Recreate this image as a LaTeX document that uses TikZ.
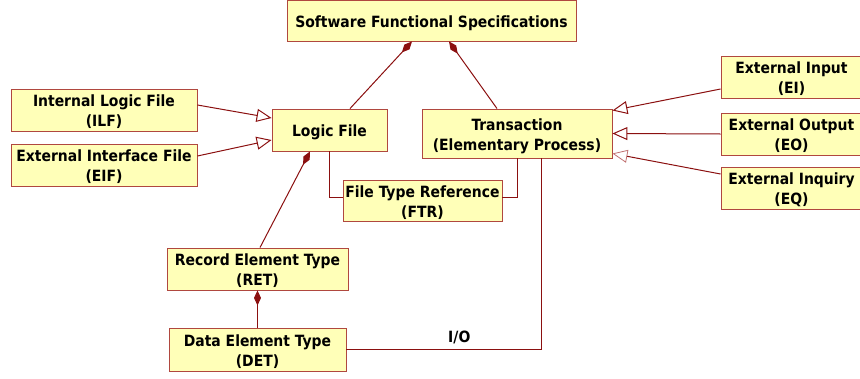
\documentclass[tikz,border=0pt]{standalone}
\usepackage{fontspec}
\setmainfont{DejaVu Sans Condensed}
\usetikzlibrary{arrows.meta}
\definecolor{boxfill}{HTML}{FFFFB8}
\definecolor{boxline}{HTML}{B0483F}
\definecolor{wire}{HTML}{8B1010}
\definecolor{paletip}{HTML}{C07070}
% box caption: centred lines, set a little below the geometric centre
\newcommand{\boxtext}[1]{\raisebox{-2.5pt}[\height][\depth]{\begin{tabular}{@{}c@{}}#1\end{tabular}}}
\tikzset{
  x=1pt, y=-1pt,
  box/.style={draw=boxline, fill=boxfill, line width=0.9pt, inner sep=0pt,
    font=\fontsize{15.5}{20}\selectfont\bfseries},
  link/.style={draw=wire, line width=1pt},
  compose/.style={link, {Diamond[length=15pt, width=7pt, fill=wire, color=wire]}-},
  inherit/.style={link, -{Triangle[open, length=15pt, width=13pt, line width=1pt]}},
  inheritpale/.style={link, -{Triangle[open, length=15pt, width=13pt, line width=0.8pt, color=paletip]}},
}
\begin{document}
\begin{tikzpicture}
\useasboundingbox (0,0) rectangle (860,378);

% boxes: centre, width, height in pixels
\node[box, minimum width=289pt, minimum height=41pt] (sfs) at (431.5,20.5) {\boxtext{Software Functional Specifications}};
\node[box, minimum width=115pt, minimum height=42pt] (lf) at (329.5,130) {\boxtext{Logic File}};
\node[box, minimum width=190pt, minimum height=49pt] (tr) at (517,133.5) {\boxtext{Transaction\\(Elementary Process)}};
\node[box, minimum width=186pt, minimum height=42pt] (ilf) at (104,110) {\boxtext{Internal Logic File\\(ILF)}};
\node[box, minimum width=186pt, minimum height=42pt] (eif) at (104,165) {\boxtext{External Interface File\\(EIF)}};
\node[box, minimum width=159pt, minimum height=41pt] (ftr) at (422.5,200.5) {\boxtext{File Type Reference\\(FTR)}};
\node[box, minimum width=141pt, minimum height=42pt] (ei) at (791.5,77) {\boxtext{External Input\\(EI)}};
\node[box, minimum width=141pt, minimum height=42pt] (eo) at (791.5,134) {\boxtext{External Output\\(EO)}};
\node[box, minimum width=141pt, minimum height=42pt] (eq) at (791.5,188) {\boxtext{External Inquiry\\(EQ)}};
\node[box, minimum width=181pt, minimum height=42pt] (ret) at (257.5,269) {\boxtext{Record Element Type\\(RET)}};
\node[box, minimum width=177pt, minimum height=43pt] (det) at (257.5,349.5) {\boxtext{Data Element Type\\(DET)}};

% composition links
\draw[compose] ([xshift=-19.5pt]sfs.south) -- ([xshift=20.5pt]lf.north);
\draw[compose] ([xshift=17.5pt]sfs.south) -- ([xshift=-20pt]tr.north);
\draw[compose] ([xshift=-19.5pt]lf.south) -- ([xshift=2.5pt]ret.north);
\draw[compose] (ret.south) -- (det.north);

% generalisation links
\draw[inherit] ([yshift=5pt]ilf.east) -- ([yshift=12pt]lf.west);
\draw[inherit] ([yshift=9pt]eif.east) -- ([yshift=-10pt]lf.west);
\draw[inherit] ([yshift=-12pt]ei.west) -- ([yshift=23pt]tr.east);
\draw[inherit] (eo.west) -- (tr.east);
\draw[inheritpale] ([yshift=14pt]eq.west) -- ([yshift=-20pt]tr.east);

% file type reference and I/O
\draw[link] (lf.south) |- ([yshift=3.5pt]ftr.west);
\draw[link] (tr.south) |- ([yshift=3.5pt]ftr.east);
\draw[link] (det.east) -| node[pos=0.29, above=1.5pt, font=\fontsize{15.5}{18}\selectfont\bfseries, text=black] (io) {I/O} ([xshift=24pt]tr.south);
\end{tikzpicture}
\end{document}
